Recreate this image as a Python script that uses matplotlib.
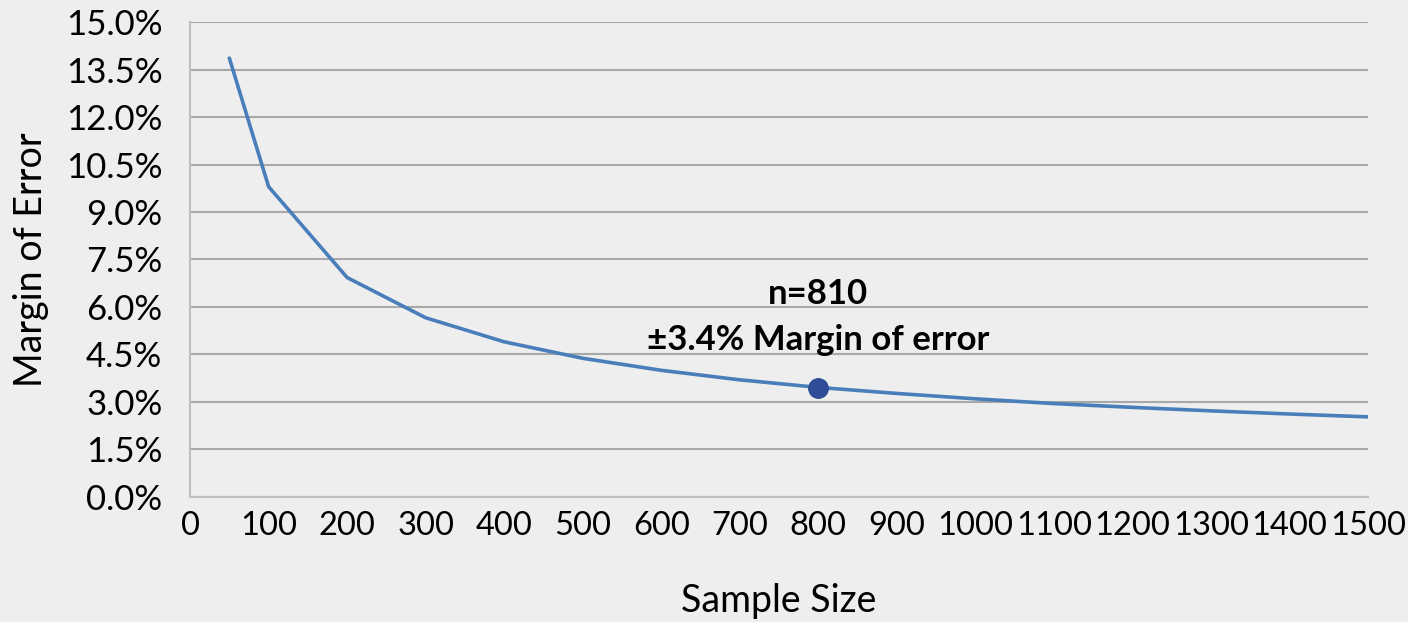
import matplotlib
matplotlib.use("Agg")
from matplotlib import pyplot as plt
from matplotlib.ticker import FuncFormatter

# values
sample_sizes = [50, 100, 200, 300, 400, 500, 600, 700, 800, 900, 1000, 1100, 1200, 1300, 1400, 1500]
margin_pct = [13.86, 9.80, 6.93, 5.66, 4.90, 4.38, 4.00, 3.70, 3.46, 3.27, 3.10, 2.95, 2.83, 2.72, 2.62, 2.53]
point_n = [800]
point_moe = [3.44]
note_lines = ["n=810", "\u00b13.4% Margin of error"]

plt.rcParams['font.family'] = ['Lato', 'DejaVu Sans']
bg = '#eeeeee'

fig = plt.figure(figsize=(14.08, 6.22), dpi=100, facecolor=bg)
ax = fig.add_axes([0.135, 0.201, 0.8366, 0.7636], facecolor=bg)

ax.plot(sample_sizes, margin_pct, color='#4a7ebb', lw=2.6, solid_capstyle='round', zorder=3)
ax.plot(point_n, point_moe, 'o', color='#2f4d96', ms=14, zorder=4)

ax.text(point_n[0], 6.4, note_lines[0], ha='center', va='center', fontsize=25, fontweight='bold')
ax.text(point_n[0], 4.95, note_lines[1], ha='center', va='center', fontsize=25, fontweight='bold')

ax.set_xlim(0, 1500)
ax.set_ylim(0, 15)
ax.set_xticks(range(0, 1501, 100))
ax.set_yticks([i * 1.5 for i in range(11)])
ax.yaxis.set_major_formatter(FuncFormatter(lambda v, p: f"{v:.1f}%"))
ax.tick_params(length=0)
ax.tick_params(axis='y', pad=20, labelsize=25)
ax.tick_params(axis='x', pad=10, labelsize=23.5)

ax.grid(axis='y', color='#a8a8a8', lw=1.5)
ax.set_axisbelow(True)
for s in ['top', 'right']:
    ax.spines[s].set_visible(False)
for s in ['left', 'bottom']:
    ax.spines[s].set_color('#bfbfbf')
    ax.spines[s].set_linewidth(1.5)

ax.set_xlabel("Sample Size", fontsize=27, labelpad=30)
ax.set_ylabel("Margin of Error", fontsize=27, labelpad=12)

fig.savefig("out.png", dpi=100, facecolor=bg)
